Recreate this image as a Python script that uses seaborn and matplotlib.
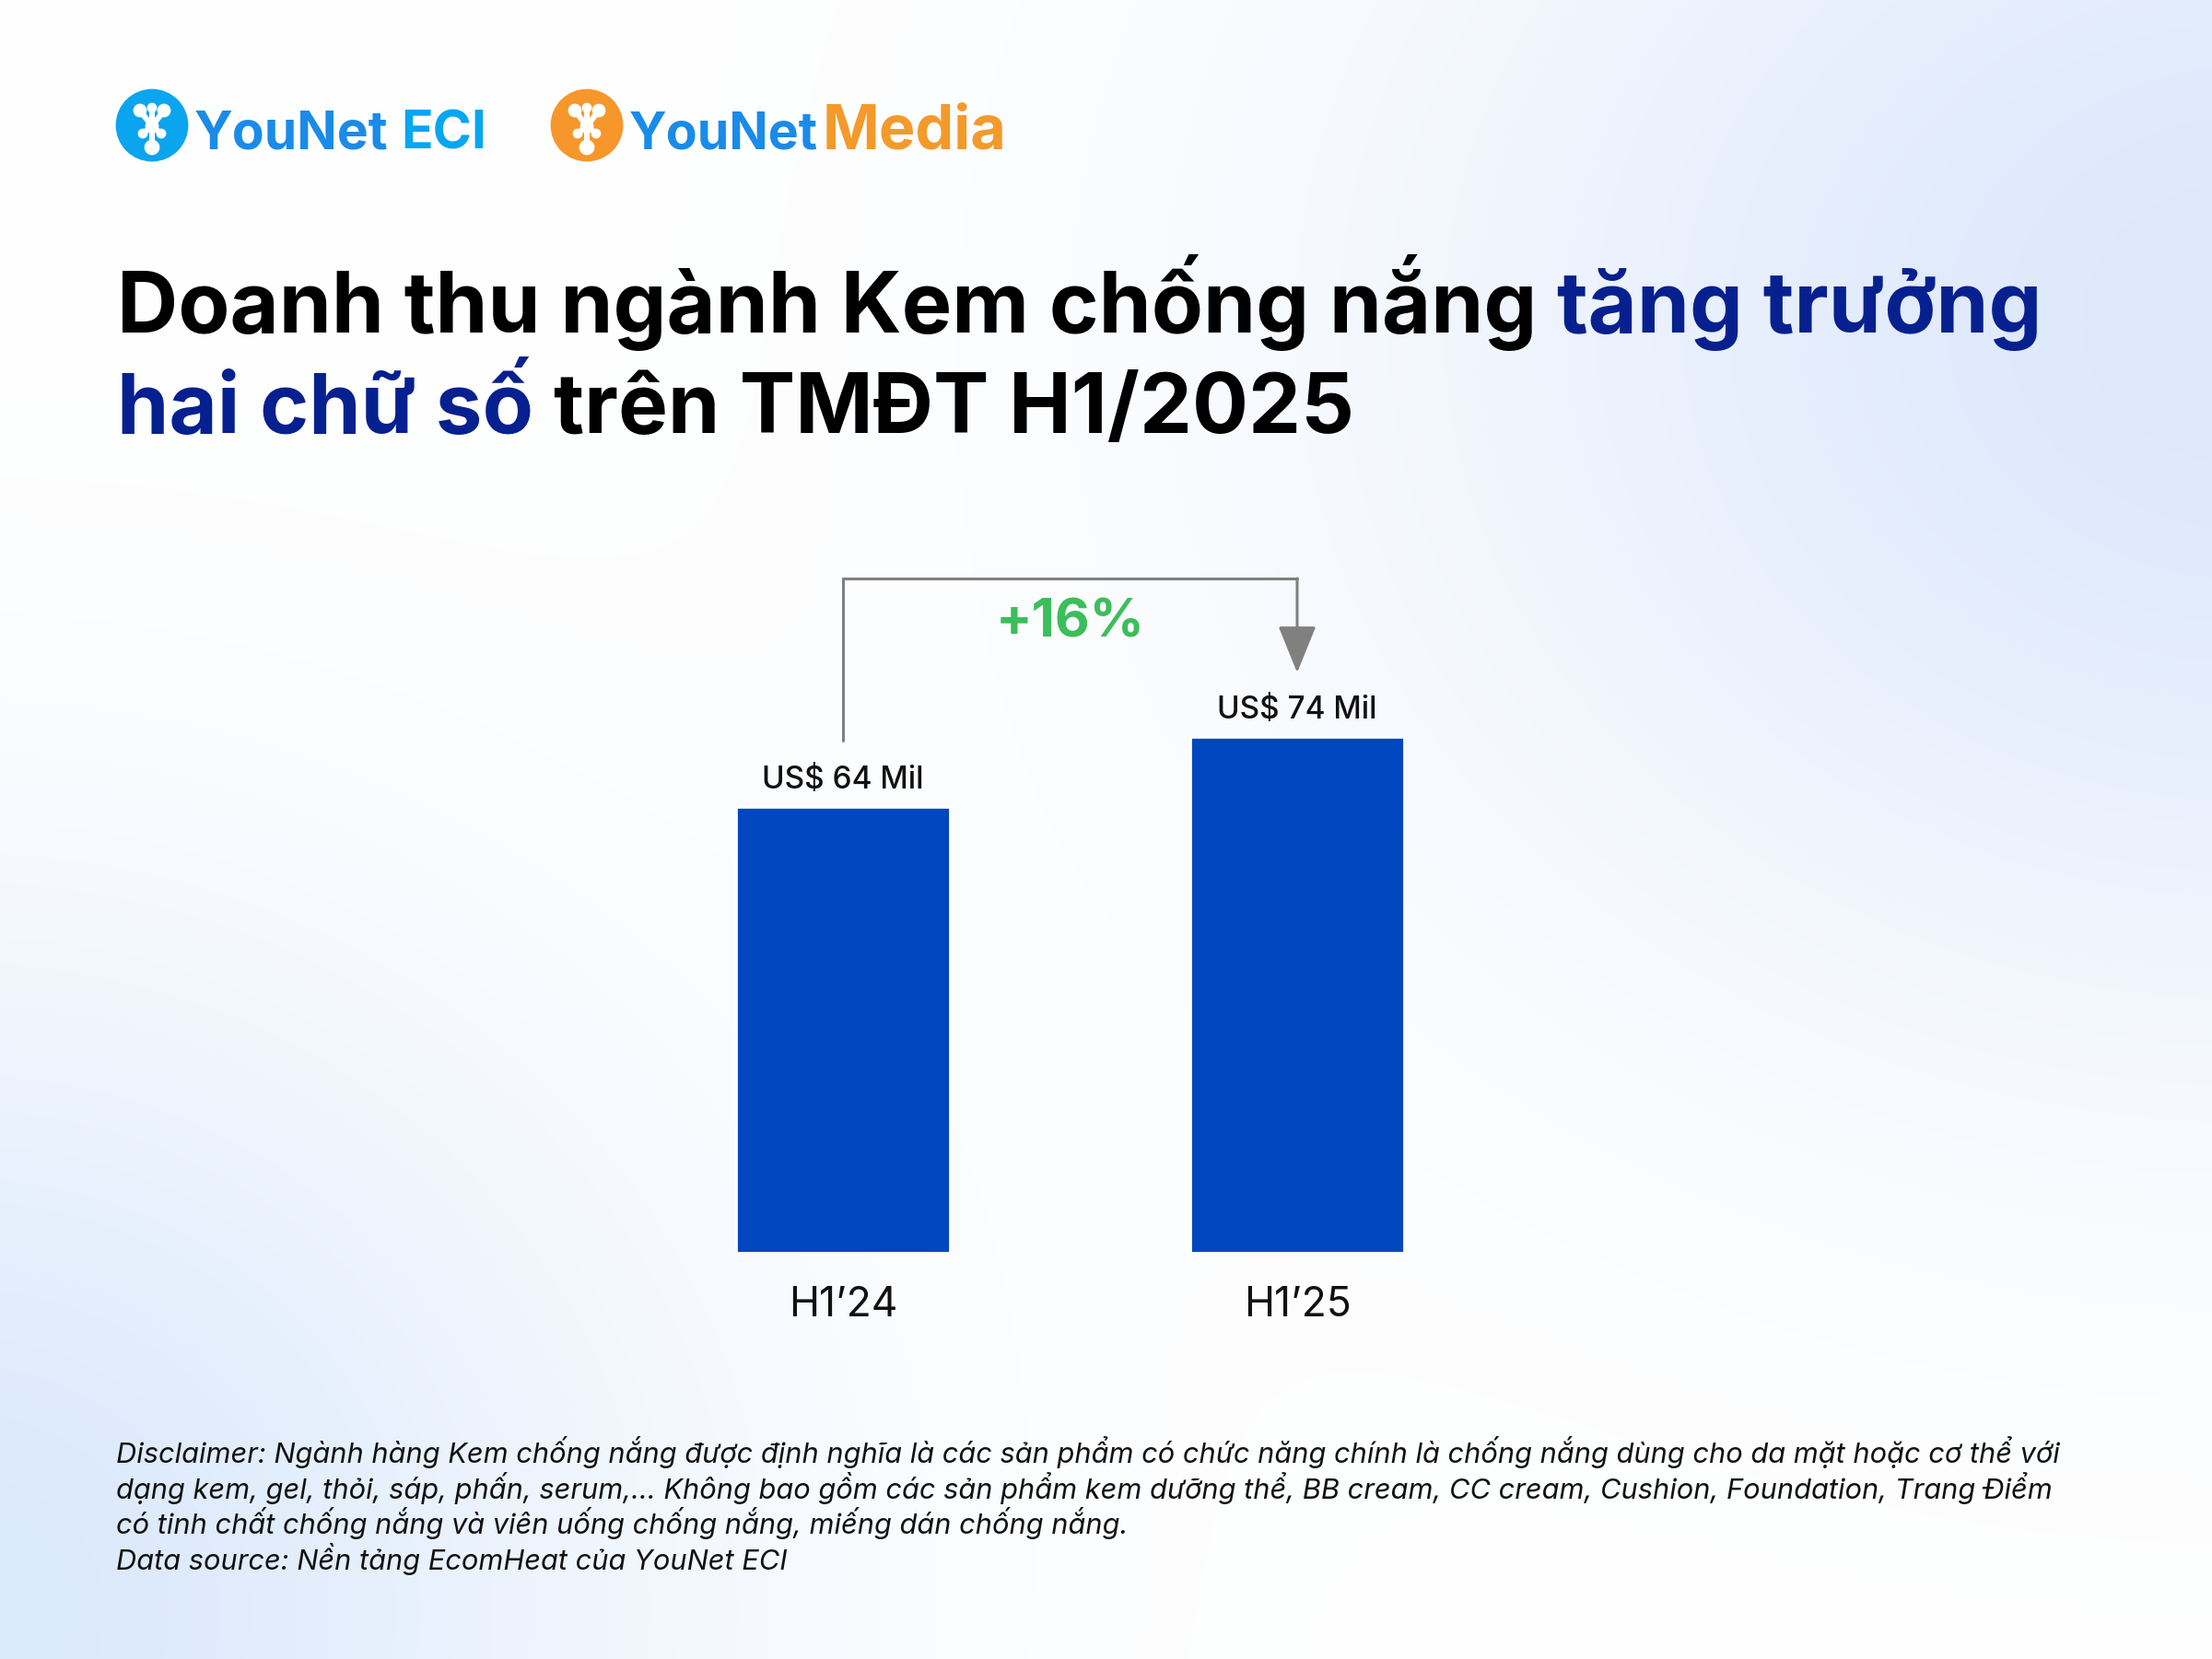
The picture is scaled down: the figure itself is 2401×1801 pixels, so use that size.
import numpy as np
import pandas as pd
import matplotlib
matplotlib.use("Agg")
import matplotlib.pyplot as plt
import seaborn as sns
from matplotlib.patches import Circle

# ---- data ----
periods = ["H1’24", "H1’25"]
revenue = [64, 74]  # US$ Mil
value_labels = ["US$ 64 Mil", "US$ 74 Mil"]
growth_label = "+16%"

title_line1 = [("Doanh thu ngành Kem chống nắng", "#000000"), ("tăng trưởng", "#06208F")]
title_line2 = [("hai chữ số", "#06208F"), ("trên TMĐT H1/2025", "#000000")]
notes = [
    "Disclaimer: Ngành hàng Kem chống nắng được định nghĩa là các sản phẩm có chức năng chính là chống nắng dùng cho da mặt hoặc cơ thể với",
    "dạng kem, gel, thỏi, sáp, phấn, serum,... Không bao gồm các sản phẩm kem dưỡng thể, BB cream, CC cream, Cushion, Foundation, Trang Điểm",
    "có tinh chất chống nắng và viên uống chống nắng, miếng dán chống nắng.",
    "Data source: Nền tảng EcomHeat của YouNet ECI",
]

df = pd.DataFrame({"period": periods, "revenue": revenue})

sns.set_theme(style="white")
plt.rcParams["font.family"] = ["Inter", "DejaVu Sans"]

W, H = 2401, 1801
fig = plt.figure(figsize=(W / 200, H / 200), dpi=200)
renderer = fig.canvas.get_renderer()

# background layer in pixel coordinates
bg = fig.add_axes([0, 0, 1, 1], zorder=0)
yy, xx = np.mgrid[0:H:4, 0:W:4]
w1 = np.exp(-(((xx - 2450) / 900.0) ** 2 + ((yy - 350) / 750.0) ** 2))
w2 = np.exp(-(((xx + 50) / 750.0) ** 2 + ((yy - 1750) / 700.0) ** 2))
tint1 = np.array([221, 232, 252]) / 255.0
tint2 = np.array([219, 233, 252]) / 255.0
img = np.ones(xx.shape + (3,))
img = img * (1 - w1[..., None]) + tint1 * w1[..., None]
img = img * (1 - w2[..., None]) + tint2 * w2[..., None]
bg.imshow(img, extent=(0, W, H, 0), aspect="auto", interpolation="bilinear")
bg.set_xlim(0, W)
bg.set_ylim(H, 0)
bg.axis("off")


def wpx(t):
    return t.get_window_extent(renderer).width


def space_px(size, **kw):
    p1 = bg.text(0, 0, "a a", fontsize=size, **kw)
    p2 = bg.text(0, 0, "aa", fontsize=size, **kw)
    gap = wpx(p1) - wpx(p2)
    p1.remove()
    p2.remove()
    return gap


def fit_line(pieces, x, y, target, size, **kw):
    # lay the pieces side by side, then scale the font so the line spans target px
    arts = [bg.text(x, y, s, color=c, fontsize=size, va="baseline", ha="left", **kw)
            for s, c in pieces]
    gap = space_px(size, **kw)
    total = sum(wpx(a) for a in arts) + gap * (len(arts) - 1)
    k = target / total
    cx = x
    for a in arts:
        a.set_fontsize(size * k)
        a.set_x(cx)
        cx += wpx(a) + gap * k
    return size * k


# ---- logos ----
def logo_icon(cx, cy, r, color):
    bg.add_patch(Circle((cx, cy), r, color=color, zorder=2))
    s = r / 38.0
    pts = [(-13, -16, 6), (0, -19, 4), (13, -16, 6), (0, 1, 6), (-10, 9, 4), (10, 9, 4), (0, 24, 7)]
    for dx, dy, rr in pts:
        bg.add_patch(Circle((cx + dx * s, cy + dy * s), rr * s, color="white", zorder=3))
    for a, b in [(0, 3), (2, 3), (1, 3), (3, 6), (3, 4), (3, 5)]:
        bg.plot([cx + pts[a][0] * s, cx + pts[b][0] * s], [cy + pts[a][1] * s, cy + pts[b][1] * s],
                color="white", lw=2.2, zorder=3, solid_capstyle="round")


logo_icon(165, 136, 38, "#0AA5EE")
logo_icon(637, 136, 38, "#F7962A")
fit_line([("YouNet", "#1A8BE8"), ("ECI", "#06A6F0")], 211, 161, 317, 24, fontweight="bold")
fit_line([("YouNet", "#1A8BE8")], 683, 161, 205, 24, fontweight="bold")
fit_line([("Media", "#F39A2B")], 893, 161, 200, 24, fontweight="bold")

# ---- title ----
ts = fit_line(title_line1, 127, 361, 2090, 36, fontweight="bold")
ts2 = (ts + fit_line(title_line2, 127, 470, 1325, 36, fontweight="bold")) / 2
for t in bg.texts[-2:]:
    t.remove()
arts2 = [bg.text(127, 470, s, color=c, fontsize=ts2, fontweight="bold", va="baseline", ha="left")
         for s, c in title_line2]
arts2[1].set_x(127 + wpx(arts2[0]) + space_px(ts2, fontweight="bold"))

# ---- disclaimer ----
ns = fit_line([(notes[0], "#111111")], 126, 1588, 2110, 10.5, fontstyle="italic")
for i, line in enumerate(notes[1:], start=1):
    bg.text(126, 1588 + i * 38.5, line, color="#111111", fontsize=ns, fontstyle="italic",
            va="baseline", ha="left")

# ---- chart ----
ax = fig.add_axes([668.5 / W, 1 - 1360 / H, 986 / W, 757 / H], zorder=2)
ax.patch.set_alpha(0)
sns.barplot(data=df, x="period", y="revenue", color="#0047BF", width=0.47, saturation=1, ax=ax)
ax.set_xlim(-0.5, 1.5)
ax.set_ylim(0, 100)
ax.set_yticks([])
ax.set_xlabel("")
ax.set_ylabel("")
ax.tick_params(axis="x", length=0, pad=13, labelsize=16, labelcolor="#111111")
sns.despine(ax=ax, left=True, bottom=True)

for i, (v, lab) in enumerate(zip(revenue, value_labels)):
    ax.annotate(lab, (i, v), xytext=(0, 4.5), textcoords="offset points", ha="center",
                va="bottom", fontsize=12, fontweight="medium", color="#111111")

# growth bracket
gray = "#808080"
ax.plot([0, 0, 1], [73.4, 96.7, 96.7], color=gray, lw=1.1, solid_joinstyle="miter")
ax.annotate("", xy=(1, 83.2), xytext=(1, 96.7),
            arrowprops=dict(arrowstyle="-|>,head_length=1.6,head_width=0.65", color=gray,
                            lw=1.1, shrinkA=0, shrinkB=0, mutation_scale=10))
ax.text(0.5, 90.3, growth_label, ha="center", va="center", fontsize=21, fontweight="bold",
        color="#3BBE5B")

fig.savefig("out.png", dpi=200)
